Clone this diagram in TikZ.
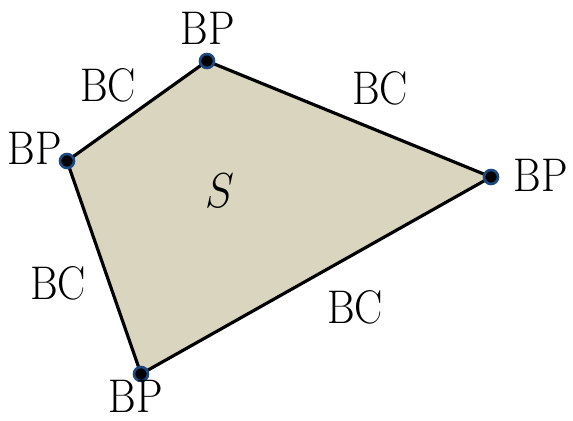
\documentclass[tikz,border=0pt]{standalone}
\usepackage{xcolor,graphicx,tikz}
\usetikzlibrary{positioning,calc}
\definecolor{region}{HTML}{D9D5BF}
\definecolor{pointblue}{HTML}{1C4A80}
\newcommand{\tallbox}[1]{\scalebox{1}[1.12]{#1}}
\tikzset{bp/.style={circle,fill=black,draw=pointblue,line width=1.5pt,inner sep=0pt,minimum size=2.8mm},lab/.style={font=\fontsize{24}{28}\selectfont,inner sep=1pt}}
\begin{document}
\begin{tikzpicture}
\useasboundingbox (0,0) rectangle (11.46,8.4);
\coordinate (t) at (4.14,7.18);
\coordinate (r) at (9.82,4.86);
\coordinate (b) at (2.82,0.92);
\coordinate (l) at (1.34,5.18);
\draw[fill=region,line width=1.8pt,line join=round] (t)--(r)--(b)--(l)--cycle;
\foreach \p in {t,r,b,l}{\node[bp] (\p dot) at (\p) {};}
\node[lab] (tbp) at (4.15,7.84) {\tallbox{BP}};
\node[lab] (rbp) at (10.82,4.9) {\tallbox{BP}};
\node[lab] (bbp) at (2.72,0.47) {\tallbox{BP}};
\node[lab] (lbp) at (0.7,5.44) {\tallbox{BP}};
\node[lab] (tlbc) at (2.16,6.7) {\tallbox{BC}};
\node[lab] (trbc) at (7.6,6.64) {\tallbox{BC}};
\node[lab] (lbc) at (1.16,2.74) {\tallbox{BC}};
\node[lab] (bbc) at (7.1,2.26) {\tallbox{BC}};
\node[lab] (s) at (4.4,4.58) {\tallbox{$S$}};
\end{tikzpicture}
\end{document}
